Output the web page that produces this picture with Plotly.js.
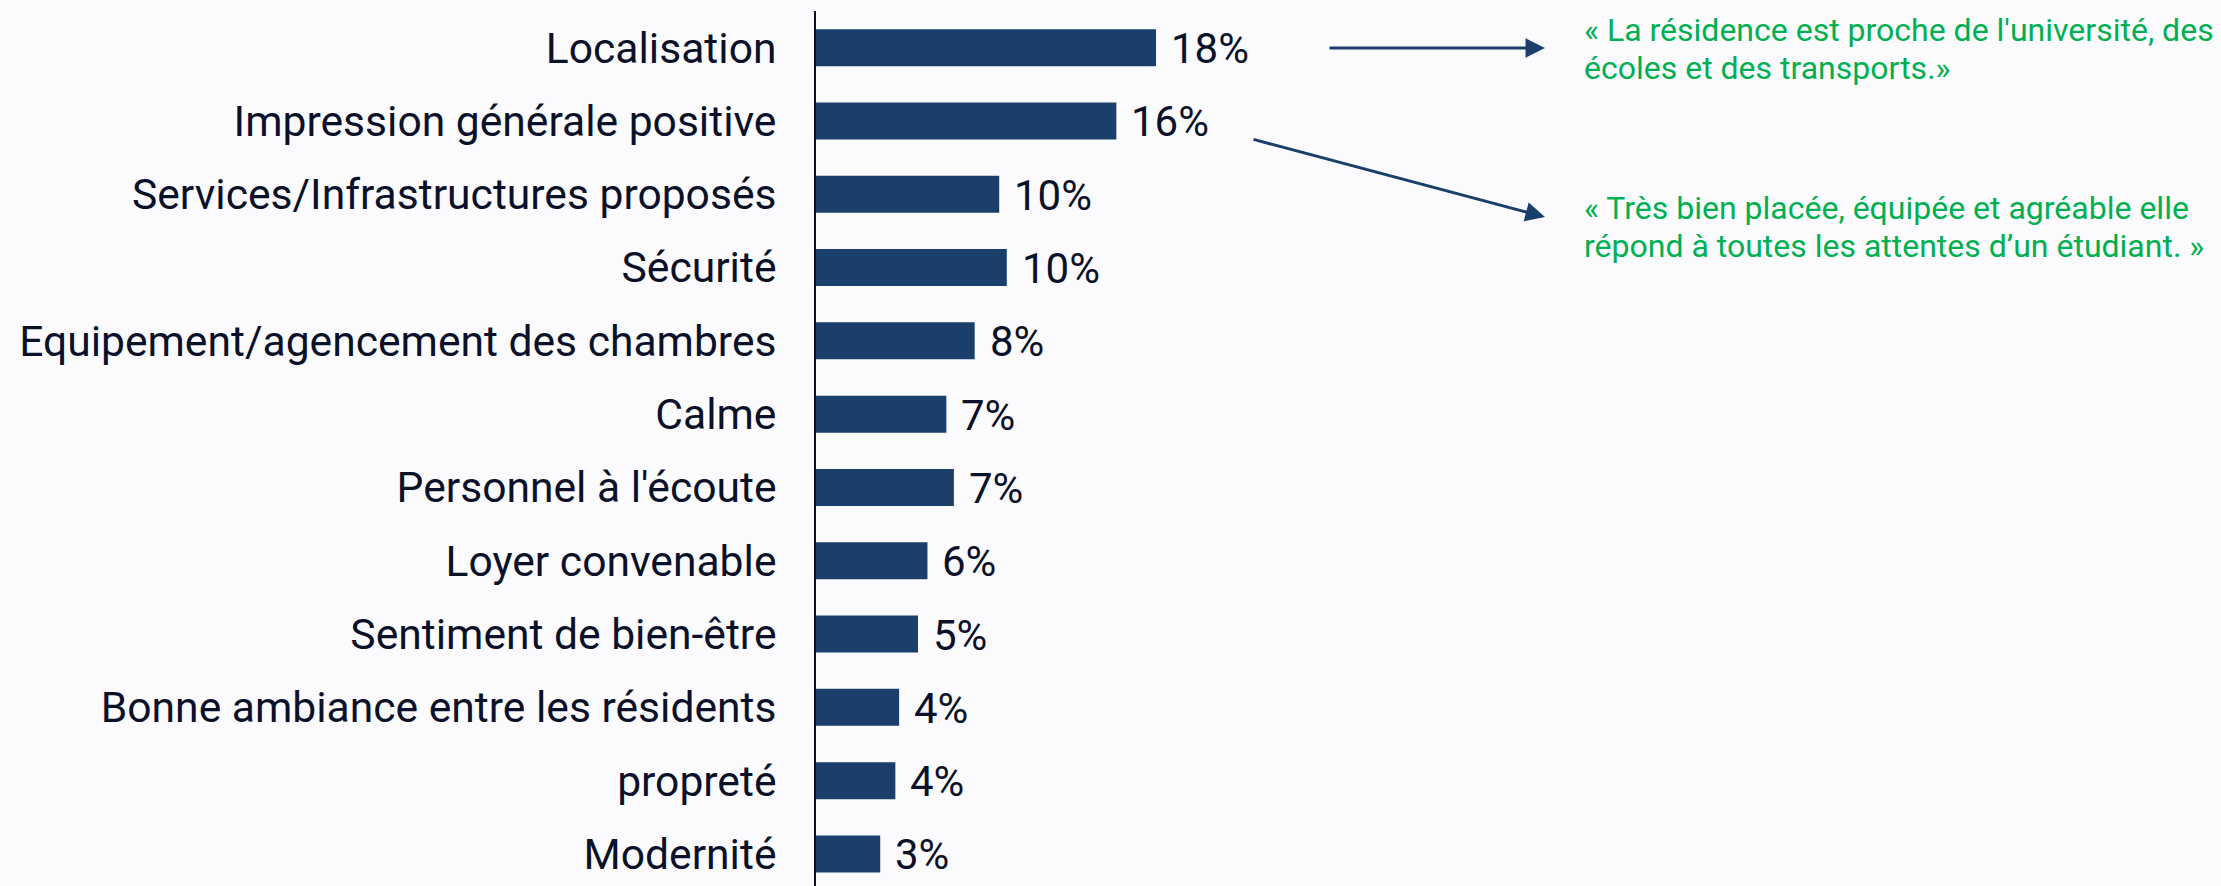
<!DOCTYPE html>
<html>
<head>
<meta charset="utf-8">
<script src="https://cdn.plot.ly/plotly-3.0.1.min.js"></script>
<style>
  html, body { margin: 0; padding: 0; background: #fbfbfe; }
  #chart { width: 2221px; height: 886px; }
</style>
</head>
<body>
<div id="chart"></div>
<script>
// ---- Data ----
var categories = [
  "Localisation",
  "Impression générale positive",
  "Services/Infrastructures proposés",
  "Sécurité",
  "Equipement/agencement des chambres",
  "Calme",
  "Personnel à l'écoute",
  "Loyer convenable",
  "Sentiment de bien-être",
  "Bonne ambiance entre les résidents",
  "propreté",
  "Modernité"
];
var values = [18.0, 15.9, 9.7, 10.1, 8.4, 6.9, 7.3, 5.9, 5.4, 4.4, 4.2, 3.4];
var quote1Lines = ["« La résidence est proche de l'université, des", "écoles et des transports.»"];
var quote2Lines = ["« Très bien placée, équipée et agréable elle", "répond à toutes les attentes d\u2019un étudiant. »"];

// ---- Layout geometry ----
var W = 2221, H = 886;
var M = {l: 816, r: 0, t: 11, b: 0};
var pw = W - M.l - M.r, ph = H - M.t - M.b;
function px(x) { return (x - M.l) / pw; }
function py(y) { return 1 - (y - M.t) / ph; }

var barColor = '#1a3f6a';
var textColor = '#0b1129';
var green = '#00b050';

var trace = {
  type: 'bar',
  orientation: 'h',
  y: categories,
  x: values,
  marker: {color: barColor},
  hoverinfo: 'none'
};

var annotations = [];
// value labels
for (var i = 0; i < categories.length; i++) {
  annotations.push({
    x: values[i], y: categories[i], xref: 'x', yref: 'y',
    text: Math.round(values[i]) + '%',
    showarrow: false, xanchor: 'left', yanchor: 'middle', xshift: 13, yshift: -1,
    font: {family: 'Roboto', size: 42, color: textColor}
  });
}
// quotes
function addLines(lines, yCenters) {
  for (var j = 0; j < lines.length; j++) {
    annotations.push({
      x: px(1582), y: py(yCenters[j]), xref: 'paper', yref: 'paper',
      text: lines[j], showarrow: false, xanchor: 'left', yanchor: 'middle',
      font: {family: 'Roboto', size: 32, color: green}
    });
  }
}
addLines(quote1Lines, [30, 68]);
addLines(quote2Lines, [208, 246]);
// arrows
function addArrow(tx, ty, sx, sy) {
  annotations.push({
    x: px(tx), y: py(ty), xref: 'paper', yref: 'paper',
    ax: sx - tx, ay: sy - ty, axref: 'pixel', ayref: 'pixel',
    text: '', showarrow: true, arrowhead: 2, arrowsize: 1.3, arrowwidth: 3,
    arrowcolor: barColor, standoff: 0
  });
}
addArrow(1545, 48, 1328, 48);
addArrow(1545, 217, 1252, 139);

var layout = {
  width: W, height: H,
  margin: {l: M.l, r: M.r, t: M.t, b: M.b, pad: 0},
  paper_bgcolor: '#fbfbfe',
  plot_bgcolor: '#fbfbfe',
  showlegend: false,
  bargap: 0.495,
  xaxis: {
    range: [0, pw / 18.89],
    visible: false, showgrid: false, zeroline: false, fixedrange: true
  },
  yaxis: {
    type: 'category',
    range: [-0.5 + ph / 73.3, -0.5],
    showline: true, linecolor: '#0a0f24', linewidth: 2,
    showgrid: false, zeroline: false,
    ticks: '', ticklabelstandoff: 29,
    tickfont: {family: 'Roboto', size: 42.6, color: textColor},
    fixedrange: true
  },
  annotations: annotations
};

Plotly.newPlot('chart', [trace], layout, {displayModeBar: false, staticPlot: true});
</script>
</body>
</html>
